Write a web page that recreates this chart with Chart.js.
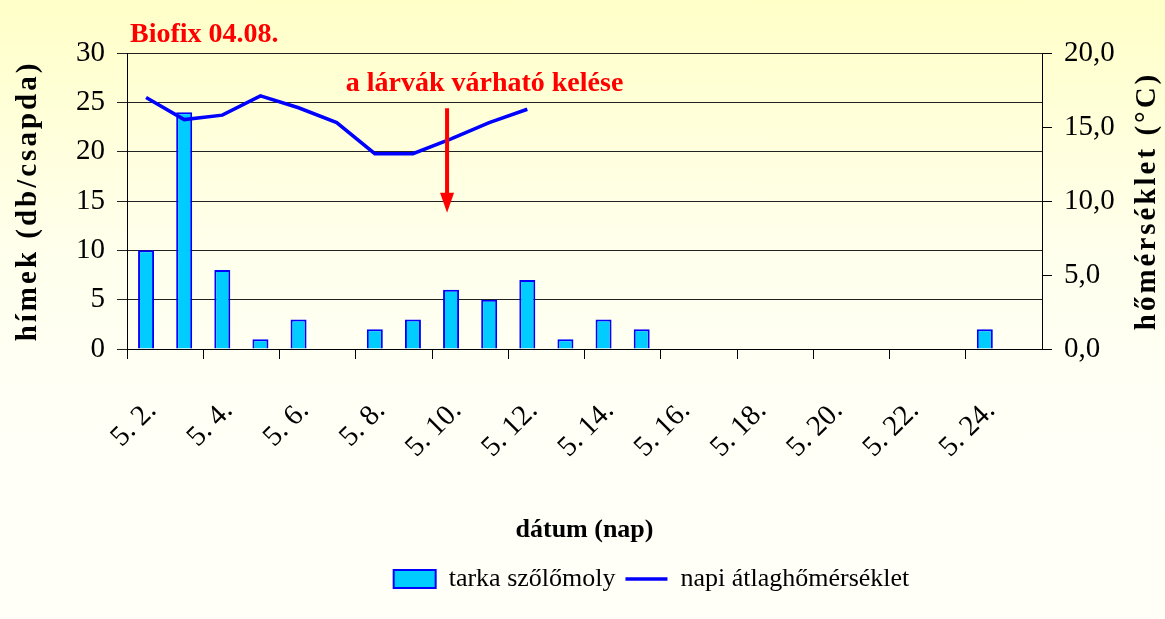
<!DOCTYPE html>
<html>
<head>
<meta charset="utf-8">
<script src="https://cdn.jsdelivr.net/npm/chart.js@4"></script>
<style>
  html, body { margin: 0; padding: 0; }
  body {
    width: 1165px; height: 619px; overflow: hidden;
    background: linear-gradient(to bottom, #FFFFC8 0%, #FFFFEC 40%, #FFFFF6 65%, #FFFFF8 100%);
  }
  canvas { display: block; }
</style>
</head>
<body>
<canvas id="chart" width="1165" height="619"></canvas>
<script>
// Dates (May 2 .. May 25)
const days = ['5. 2.', '5. 3.', '5. 4.', '5. 5.', '5. 6.', '5. 7.', '5. 8.', '5. 9.', '5. 10.', '5. 11.', '5. 12.', '5. 13.',
  '5. 14.', '5. 15.', '5. 16.', '5. 17.', '5. 18.', '5. 19.', '5. 20.', '5. 21.', '5. 22.', '5. 23.', '5. 24.', '5. 25.'];

// Males caught per trap
const moths = [10, 24, 8, 1, 3, null, 2, 3, 6, 5, 7, 1, 3, 2, null, null, null, null, null, null, null, null, 2, null];

// Daily mean temperature (°C)
const temps = [17.0, 15.5, 15.8, 17.1, 16.3, 15.3, 13.2, 13.2, 14.2, 15.3, 16.2, null, null, null, null, null, null, null, null, null, null, null, null, null];

const serif = '"Liberation Serif", "Times New Roman", serif';

// Extra text: axis titles and the red notes + arrow
const notes = {
  id: 'notes',
  afterLayout(chart) {
    // the legend sits right of centre in the original
    const lg = chart.legend;
    if (lg) { lg.left += 69; lg.right += 69; }
  },
  afterDraw(chart) {
    const { ctx, chartArea, scales } = chart;
    ctx.save();

    // left axis title
    ctx.fillStyle = '#000';
    ctx.font = 'bold 29px ' + serif;
    ctx.textAlign = 'center';
    ctx.textBaseline = 'middle';
    ctx.letterSpacing = '3px';
    ctx.save();
    ctx.translate(29, (chartArea.top + chartArea.bottom) / 2);
    ctx.rotate(-Math.PI / 2);
    ctx.fillText('hímek (db/csapda)', 0, 0);
    ctx.restore();

    // right axis title
    ctx.save();
    ctx.translate(1148, (chartArea.top + chartArea.bottom) / 2);
    ctx.rotate(-Math.PI / 2);
    ctx.fillText('hőmérséklet (°C)', 0, 0);
    ctx.restore();
    ctx.letterSpacing = '0px';

    // red notes
    ctx.fillStyle = '#FF0000';
    ctx.font = 'bold 28px ' + serif;
    ctx.textAlign = 'left';
    ctx.textBaseline = 'alphabetic';
    ctx.fillText('Biofix 04.08.', chartArea.left + 3, chartArea.top - 11);
    ctx.fillText('a lárvák várható kelése', scales.x.getPixelForValue(5) + 9, scales.y.getPixelForValue(26.1));

    // arrow
    const ax = scales.x.getPixelForValue(8) - 4;
    const y0 = scales.y.getPixelForValue(24.4);
    const y1 = scales.y.getPixelForValue(13.8);
    ctx.strokeStyle = '#FF0000';
    ctx.lineWidth = 4;
    ctx.beginPath();
    ctx.moveTo(ax, y0);
    ctx.lineTo(ax, y1 - 16);
    ctx.stroke();
    ctx.beginPath();
    ctx.moveTo(ax - 7, y1 - 20);
    ctx.lineTo(ax + 7, y1 - 20);
    ctx.lineTo(ax, y1);
    ctx.closePath();
    ctx.fill();
    ctx.restore();
  }
};

new Chart(document.getElementById('chart'), {
  type: 'bar',
  data: {
    labels: days,
    datasets: [
      {
        type: 'line',
        label: 'napi átlaghőmérséklet',
        data: temps,
        yAxisID: 'y1',
        borderColor: '#0000FF',
        backgroundColor: '#0000FF',
        borderWidth: 3.5,
        pointRadius: 0,
        pointStyle: 'line',
        tension: 0,
        spanGaps: false,
        order: 0
      },
      {
        label: 'tarka szőlőmoly',
        data: moths,
        yAxisID: 'y',
        backgroundColor: '#00CCFF',
        borderColor: '#0000FF',
        borderWidth: 2,
        barPercentage: 0.42,
        categoryPercentage: 1,
        order: 1
      }
    ]
  },
  options: {
    responsive: false,
    animation: false,
    devicePixelRatio: 1,
    layout: { padding: { left: 0, right: 0, top: 53, bottom: 17 } },
    scales: {
      x: {
        offset: true,
        grid: {
          offset: true,
          drawOnChartArea: false,
          tickLength: 10,
          color: c => (c.index % 2 === 0 ? '#000' : 'rgba(0,0,0,0)')
        },
        border: { color: '#000', width: 1 },
        ticks: {
          autoSkip: false,
          maxRotation: 45,
          minRotation: 45,
          padding: 35,
          labelOffset: 6,
          color: '#000',
          font: { family: serif, size: 29 },
          callback: (v, i) => (i % 2 === 0 ? days[i] : '')
        },
        title: {
          display: true,
          text: 'dátum (nap)',
          color: '#000',
          font: { family: serif, size: 26, weight: 'bold' },
          padding: { top: 0, bottom: 10 }
        },
        afterFit: s => { s.height = 207; }
      },
      y: {
        position: 'left',
        min: 0,
        max: 30,
        ticks: {
          stepSize: 5,
          padding: 12,
          color: '#000',
          font: { family: serif, size: 29 }
        },
        grid: { color: '#222', lineWidth: 1, tickLength: 10 },
        border: { color: '#000', width: 1 },
        afterFit: s => { s.width = 127; }
      },
      y1: {
        position: 'right',
        min: 0,
        max: 20,
        ticks: {
          stepSize: 5,
          padding: 12,
          color: '#000',
          font: { family: serif, size: 29 },
          callback: v => v.toFixed(1).replace('.', ',')
        },
        grid: { drawOnChartArea: false, color: '#000', tickLength: 10 },
        border: { color: '#000', width: 1 },
        afterFit: s => { s.width = 123; }
      }
    },
    plugins: {
      legend: {
        position: 'bottom',
        reverse: true,
        labels: {
          color: '#000',
          font: { family: serif, size: 26 },
          usePointStyle: true,
          pointStyleWidth: 42,
          boxHeight: 18,
          padding: 10,
          generateLabels: chart => {
            const items = Chart.defaults.plugins.legend.labels.generateLabels(chart);
            items.forEach(it => {
              if (it.datasetIndex === 1) {
                it.pointStyle = 'rect';
                it.lineWidth = 2;
              } else {
                it.pointStyle = 'line';
                it.lineWidth = 3.5;
              }
            });
            return items;
          }
        }
      },
      tooltip: { enabled: false }
    }
  },
  plugins: [notes]
});
</script>
</body>
</html>
